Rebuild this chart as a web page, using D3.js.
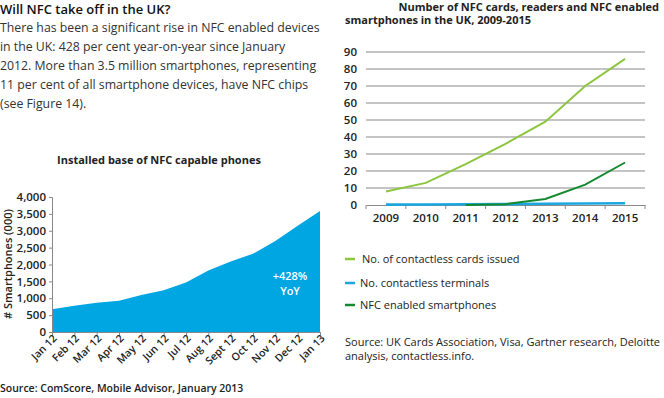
<!DOCTYPE html>
<html><head><meta charset="utf-8">
<script src="https://cdn.jsdelivr.net/npm/d3@7"></script>
<style>
body{margin:0;background:#fff;}
svg{display:block;font-family:"Open Sans",sans-serif;}
</style></head>
<body>
<script>
// ---- data ----
const months = ["Jan 12","Feb 12","Mar 12","Apr 12","May 12","Jun 12","Jul 12","Aug 12","Sept 12","Oct 12","Nov 12","Dec 12","Jan 13"];
const installedBase = [672,780,870,925,1100,1240,1470,1820,2090,2320,2700,3150,3585];
const areaTicks = [0,500,1000,1500,2000,2500,3000,3500,4000];

const years = ["2009","2010","2011","2012","2013","2014","2015"];
const cardsIssued = [8,13,24,36,49,70,86];
const terminals = [0.2,0.3,0.4,0.5,0.7,0.9,1.0];
const smartphones = [null,null,0,0.5,3.5,12,25];
const lineTicks = [0,10,20,30,40,50,60,70,80,90];

const seriesNames = ["No. of contactless cards issued","No. contactless terminals","NFC enabled smartphones"];
const seriesColors = ["#8cc63f","#1aa7e0","#15892f"];

const introTitle = "Will NFC take off in the UK?";
const introLines = ["There has been a significant rise in NFC enabled devices",
 "in the UK: 428 per cent year-on-year since January",
 "2012. More than 3.5 million smartphones, representing",
 "11 per cent of all smartphone devices, have NFC chips",
 "(see Figure 14)."];

const W=664,H=398;
const svg=d3.select("body").append("svg").attr("width",W).attr("height",H);
const txt="#222";

// intro text
svg.append("text").attr("x",0).attr("y",14).attr("font-size",13).attr("font-weight",600).attr("fill","#111").text(introTitle);
introLines.forEach((l,i)=>svg.append("text").attr("x",0).attr("y",32+i*19).attr("font-size",12.3).attr("fill","#333").text(l));

// ---- area chart ----
svg.append("text").attr("x",159).attr("y",164).attr("text-anchor","middle").attr("font-size",11).attr("font-weight",700).attr("fill",txt).text("Installed base of NFC capable phones");
const ax=d3.scalePoint().domain(months).range([52,320]);
const ay=d3.scaleLinear().domain([0,4000]).range([332,197]);
const area=d3.area().x((d,i)=>ax(months[i])).y0(ay(0)).y1(d=>ay(d));
svg.append("path").datum(installedBase).attr("d",area).attr("fill","#00a6e2");
const gya=svg.append("g").attr("transform","translate(52,0)").call(d3.axisLeft(ay).tickValues(areaTicks).tickFormat(d3.format(",")).tickSize(3));
gya.selectAll("text").attr("font-size",11.5).attr("font-weight",600).attr("fill",txt).attr("font-family","Open Sans");
gya.selectAll("line,path").attr("stroke","#888");
const gxa=svg.append("g").attr("transform","translate(0,332)").call(d3.axisBottom(ax).tickSize(3));
gxa.selectAll("line,path").attr("stroke","#888");
gxa.selectAll("text").attr("font-size",10.5).attr("font-weight",600).attr("fill",txt).attr("font-family","Open Sans")
  .attr("text-anchor","end").attr("dy",null).attr("transform","translate(3,5) rotate(-45)").attr("y",0).attr("x",0).attr("dominant-baseline","middle");
svg.append("text").attr("transform","translate(12,264) rotate(-90)").attr("text-anchor","middle").attr("font-size",11).attr("font-weight",600).attr("fill",txt).text("# Smartphones (000)");
svg.append("text").attr("x",290).attr("y",280).attr("text-anchor","middle").attr("font-size",11).attr("font-weight",600).attr("fill","#fff").text("+428%");
svg.append("text").attr("x",290).attr("y",295).attr("text-anchor","middle").attr("font-size",11).attr("font-weight",600).attr("fill","#fff").text("YoY");
svg.append("text").attr("x",0).attr("y",392).attr("font-size",10.5).attr("font-weight",600).attr("fill",txt).text("Source: ComScore, Mobile Advisor, January 2013");

// ---- line chart ----
svg.append("text").attr("x",659).attr("y",11).attr("text-anchor","end").attr("font-size",11).attr("font-weight",700).attr("fill",txt).text("Number of NFC cards, readers and NFC enabled");
svg.append("text").attr("x",345).attr("y",24).attr("font-size",11).attr("font-weight",700).attr("fill",txt).text("smartphones in the UK, 2009-2015");
const lx=d3.scaleBand().domain(years).range([366,645]);
const ly=d3.scaleLinear().domain([0,90]).range([205,52]);
svg.append("g").selectAll("line").data(lineTicks.filter(d=>d>0)).join("line")
  .attr("x1",366).attr("x2",645).attr("y1",d=>ly(d)).attr("y2",d=>ly(d)).attr("stroke","#8a8a8a").attr("stroke-width",1.2);
const gyl=svg.append("g").attr("transform","translate(366,0)").call(d3.axisLeft(ly).tickValues(lineTicks).tickSize(0).tickPadding(9));
gyl.select(".domain").remove();
gyl.selectAll("text").attr("font-size",11.5).attr("font-weight",600).attr("fill",txt).attr("font-family","Open Sans");
const gxl=svg.append("g").attr("transform","translate(0,205)").call(d3.axisBottom(lx).tickSize(0).tickPadding(9));
gxl.select(".domain").attr("stroke","#8a8a8a").attr("stroke-width",1.2);
gxl.selectAll("text").attr("font-size",11.5).attr("font-weight",600).attr("fill",txt).attr("font-family","Open Sans");
svg.append("g").selectAll("line").data(years.concat(["end"])).join("line")
  .attr("x1",(d,i)=>366+i*lx.step()).attr("x2",(d,i)=>366+i*lx.step()).attr("y1",205).attr("y2",209).attr("stroke","#8a8a8a");
const lineGen=d3.line().defined(d=>d!==null).x((d,i)=>lx(years[i])+lx.bandwidth()/2).y(d=>ly(d));
[cardsIssued,terminals,smartphones].forEach((s,k)=>{
  svg.append("path").datum(s).attr("d",lineGen).attr("fill","none").attr("stroke",seriesColors[k]).attr("stroke-width",k===1?2.6:2);
});
// legend
const legY=[259,283,305];
seriesNames.forEach((n,i)=>{
  svg.append("line").attr("x1",345).attr("x2",355).attr("y1",legY[i]).attr("y2",legY[i]).attr("stroke",seriesColors[i]).attr("stroke-width",2.5);
  svg.append("text").attr("x",i===0?362:360).attr("y",legY[i]+4).attr("font-size",11).attr("fill",txt).text(n);
});
svg.append("text").attr("x",345).attr("y",346).attr("font-size",11).attr("fill",txt).text("Source: UK Cards Association, Visa, Gartner research, Deloitte");
svg.append("text").attr("x",345).attr("y",360).attr("font-size",11).attr("fill",txt).text("analysis, contactless.info.");
</script>
</body></html>
